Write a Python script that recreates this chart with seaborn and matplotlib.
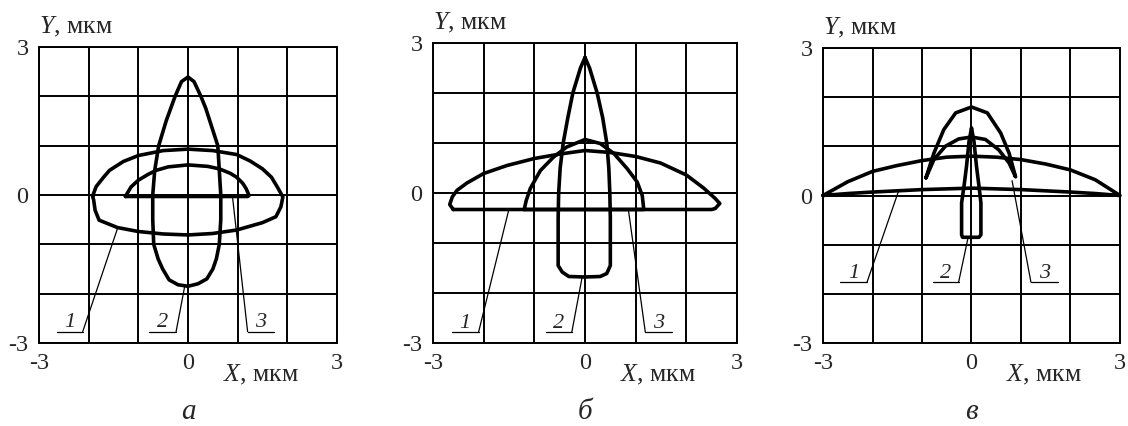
import matplotlib
matplotlib.use("Agg")
import matplotlib.pyplot as plt
import seaborn as sns
import pandas as pd

# ---- contour data (X, Y in мкм) ----
# panel а
a1_x = [-1.92, -1.85, -1.7, -1.58, -1.3, -1.0, -0.5, 0.0, 0.5, 0.98, 1.25, 1.5, 1.68, 1.8, 1.91,
        1.87, 1.77, 1.5, 0.98, 0.5, 0.0, -0.5, -1.0, -1.42, -1.79, -1.87, -1.9, -1.92]
a1_y = [-0.02, 0.17, 0.36, 0.5, 0.68, 0.8, 0.9, 0.93, 0.9, 0.82, 0.69, 0.53, 0.36, 0.16, -0.04,
        -0.24, -0.44, -0.56, -0.71, -0.78, -0.81, -0.79, -0.74, -0.66, -0.51, -0.31, -0.1, -0.02]
a2_x = [0.0, 0.12, 0.26, 0.36, 0.44, 0.6, 0.63, 0.66, 0.66, 0.63, 0.57, 0.5, 0.38, 0.2, 0.0,
        -0.2, -0.38, -0.51, -0.6, -0.69, -0.71, -0.71, -0.67, -0.59, -0.44, -0.35, -0.26, -0.13, 0.0]
a2_y = [2.39, 2.3, 2.0, 1.75, 1.5, 1.0, 0.5, 0.0, -0.5, -1.0, -1.3, -1.5, -1.7, -1.8, -1.85,
        -1.82, -1.72, -1.5, -1.3, -1.0, -0.5, 0.0, 0.5, 1.0, 1.5, 1.75, 2.0, 2.3, 2.39]
a3_x = [-1.26, -1.15, -1.0, -0.8, -0.64, -0.4, 0.0, 0.4, 0.63, 0.85, 0.98, 1.1, 1.17, 1.23, 1.2, -1.26]
a3_y = [-0.03, 0.16, 0.3, 0.42, 0.5, 0.57, 0.61, 0.58, 0.53, 0.44, 0.36, 0.24, 0.13, -0.01, -0.03, -0.03]

# panel б
b1_x = [-2.6, -2.67, -2.62, -2.53, -2.33, -2.0, -1.54, -1.0, -0.49, 0.0, 0.5, 1.0, 1.49, 2.0,
        2.34, 2.57, 2.66, 2.57, 2.5, -2.6]
b1_y = [-0.33, -0.23, -0.08, 0.05, 0.2, 0.39, 0.55, 0.69, 0.78, 0.85, 0.81, 0.73, 0.6, 0.36,
        0.1, -0.11, -0.21, -0.31, -0.33, -0.33]
b2_x = [0.0, 0.09, 0.24, 0.35, 0.43, 0.47, 0.49, 0.5, 0.5, 0.43, 0.3, 0.0, -0.32, -0.45,
        -0.53, -0.53, -0.52, -0.49, -0.43, -0.34, -0.24, -0.09, 0.0]
b2_y = [2.71, 2.5, 2.0, 1.5, 1.0, 0.5, 0.0, -0.5, -1.45, -1.61, -1.67, -1.68, -1.67, -1.58,
        -1.45, -0.5, 0.0, 0.5, 1.0, 1.5, 2.0, 2.5, 2.71]
b3_x = [-1.2, -1.16, -1.08, -0.88, -0.62, -0.36, 0.0, 0.3, 0.57, 0.83, 1.03, 1.13, 1.16, -1.2]
b3_y = [-0.33, -0.15, 0.09, 0.45, 0.72, 0.92, 1.07, 0.99, 0.79, 0.49, 0.22, -0.05, -0.33, -0.33]

# panel в
c1_x = [-3.0, -2.5, -2.0, -1.5, -1.0, -0.5, 0.0, 0.5, 1.0, 1.5, 2.0, 2.5, 3.0,
        2.5, 2.0, 1.0, 0.0, -1.0, -2.0, -2.5, -3.0]
c1_y = [0.0, 0.28, 0.49, 0.61, 0.71, 0.78, 0.8, 0.78, 0.73, 0.64, 0.52, 0.32, 0.0,
        0.04, 0.07, 0.12, 0.15, 0.12, 0.07, 0.04, 0.0]
c2_x = [0.0, 0.05, 0.1, 0.15, 0.19, 0.19, 0.15, -0.18, -0.2, -0.2, -0.15, -0.1, -0.05, 0.0]
c2_y = [1.37, 1.1, 0.6, 0.2, -0.15, -0.8, -0.85, -0.85, -0.8, -0.15, 0.2, 0.6, 1.1, 1.37]
c3_x = [-0.92, -0.76, -0.56, -0.32, 0.0, 0.32, 0.59, 0.76, 0.89,
        0.76, 0.55, 0.28, 0.0, -0.26, -0.53, -0.76, -0.92]
c3_y = [0.36, 0.86, 1.34, 1.68, 1.8, 1.68, 1.27, 0.86, 0.38,
        0.66, 0.93, 1.14, 1.19, 1.15, 1.0, 0.73, 0.36]

curve_ids = ["1", "2", "3"]
panel_letters = ["а", "б", "в"]
tick_vals = [-3, -2, -1, 0, 1, 2, 3]
tick_text = ["-3", "", "", "0", "", "", "3"]

panels = [
    [(a1_x, a1_y), (a2_x, a2_y), (a3_x, a3_y)],
    [(b1_x, b1_y), (b2_x, b2_y), (b3_x, b3_y)],
    [(c1_x, c1_y), (c2_x, c2_y), (c3_x, c3_y)],
]

# callout layout: underline span, underline y, leader side, leader target
callouts = [
    [(-2.64, -2.12, -2.77, "r", (-1.42, -0.68)),
     (-0.78, -0.24, -2.77, "r", (-0.07, -1.87)),
     (1.2, 1.74, -2.77, "l", (0.9, -0.07))],
    [(-2.63, -2.1, -2.78, "r", (-1.51, -0.36)),
     (-0.77, -0.26, -2.78, "r", (-0.06, -1.7)),
     (1.19, 1.72, -2.78, "l", (0.86, -0.36))],
    [(-2.65, -2.11, -1.76, "r", (-1.47, 0.1)),
     (-0.78, -0.26, -1.76, "r", (-0.07, -0.86)),
     (1.2, 1.74, -1.76, "l", (0.82, 0.3))],
]

sns.set_style("white")
plt.rcParams["font.family"] = ["Liberation Serif", "DejaVu Serif"]
plt.rcParams["mathtext.fontset"] = "custom"
plt.rcParams["mathtext.it"] = "Liberation Serif:italic"
plt.rcParams["mathtext.rm"] = "Liberation Serif"
plt.rcParams["axes.unicode_minus"] = False

W, H = 1128, 426
fig = plt.figure(figsize=(W / 100, H / 100), dpi=100)
fig.patch.set_facecolor("white")

boxes = [(39, 337, 47, 343), (433, 737, 43, 343), (823, 1120, 48, 343)]
TICK_FS = 17.5
LABEL_FS = 18.5

for p, (l, r, t, b) in enumerate(boxes):
    ax = fig.add_axes([l / W, 1 - b / H, (r - l) / W, (b - t) / H])
    ax.set_xlim(-3, 3)
    ax.set_ylim(-3, 3)
    ax.set_xticks(tick_vals)
    ax.set_yticks(tick_vals)
    ax.set_xticklabels(tick_text, fontsize=TICK_FS)
    ax.set_yticklabels(tick_text, fontsize=TICK_FS)
    ax.tick_params(axis="x", length=0, pad=7)
    ax.tick_params(axis="y", length=0, pad=7.5)
    ax.grid(True, color="black", lw=1.4)
    ax.set_axisbelow(True)
    for s in ax.spines.values():
        s.set_visible(True)
        s.set_color("black")
        s.set_linewidth(1.4)

    for k, (xs, ys) in enumerate(panels[p]):
        df = pd.DataFrame({"x": xs, "y": ys, "curve": curve_ids[k]})
        sns.lineplot(data=df, x="x", y="y", sort=False, estimator=None,
                     color="black", lw=2.6, ax=ax, clip_on=False)

    for k, (u0, u1, uy, side, tgt) in enumerate(callouts[p]):
        ax.plot([u0, u1], [uy, uy], color="black", lw=0.9)
        sx = u1 if side == "r" else u0
        ax.plot([sx, tgt[0]], [uy, tgt[1]], color="black", lw=0.9)
        ax.text((u0 + u1) / 2, uy + 0.09, curve_ids[k], fontsize=16,
                fontstyle="italic", ha="center", va="baseline")

    ax.set_xlabel("")
    ax.set_ylabel("")
    ax.annotate("$X$, мкм", xy=(0.7, -3), xycoords="data", xytext=(0, -14),
                textcoords="offset points", ha="left", va="top", fontsize=LABEL_FS)
    ax.annotate("$Y$, мкм", xy=(0, 1), xycoords="axes fraction", xytext=(0, 6),
                textcoords="offset points", ha="left", va="bottom", fontsize=LABEL_FS)
    fig.text(((l + r) / 2) / W, 1 - 419 / H, panel_letters[p], fontsize=21,
             fontstyle="italic", ha="center", va="baseline")

fig.savefig("out.png", dpi=100, facecolor="white")
